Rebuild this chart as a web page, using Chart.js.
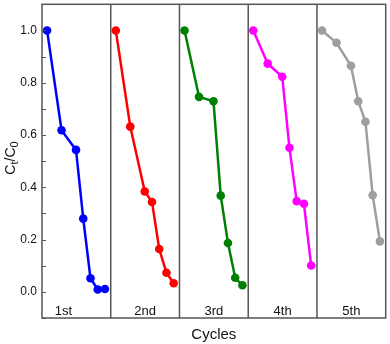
<!DOCTYPE html>
<html>
<head>
<meta charset="utf-8">
<script src="https://cdn.jsdelivr.net/npm/chart.js@4.4.1/dist/chart.umd.min.js"></script>
<style>
  html, body { margin: 0; padding: 0; background: #fff; }
  #wrap { width: 390px; height: 344px; }
</style>
</head>
<body>
<div id="wrap"><canvas id="chart" width="390" height="344"></canvas></div>
<script>
// irradiation times inside each cycle (min)
const times = [0, 20, 40, 50, 60, 70, 80];
const cycleLabels = ['1st', '2nd', '3rd', '4th', '5th'];

// Ct/C0 per cycle
const cycle1 = [1.0, 0.618, 0.543, 0.280, 0.052, 0.009, 0.011];
const cycle2 = [1.0, 0.632, 0.384, 0.344, 0.164, 0.073, 0.033];
const cycle3 = [1.0, 0.746, 0.729, 0.368, 0.187, 0.054, 0.025];
const cycle4 = [1.0, 0.873, 0.823, 0.551, 0.347, 0.337, 0.101];
const cycle5 = [1.0, 0.953, 0.865, 0.729, 0.651, 0.370, 0.193];

const colors = ['#0000ff', '#ff0000', '#008000', '#ff00ff', '#9e9e9e'];

// each panel is one cycle on a shared x axis
const panelSpan = 95;
const panelStart = 7;

const allCycles = [cycle1, cycle2, cycle3, cycle4, cycle5];

const datasets = allCycles.map((vals, p) => ({
  label: cycleLabels[p],
  data: vals.map((v, i) => ({ x: p * panelSpan + panelStart + times[i], y: v })),
  borderColor: colors[p],
  backgroundColor: colors[p],
  borderWidth: 2.5,
  pointRadius: 4.3,
  pointBorderWidth: 0,
  tension: 0
}));

const FONT = '"Liberation Sans", Arial, sans-serif';

const panelPlugin = {
  id: 'panels',
  afterDraw(chart) {
    const ctx = chart.ctx;
    const area = chart.chartArea;
    const xs = chart.scales.x;
    const ys = chart.scales.y;
    ctx.save();

    // inner ticks on the left axis
    ctx.strokeStyle = '#555';
    ctx.lineWidth = 1;
    ys.ticks.forEach(t => {
      const y = Math.round(ys.getPixelForValue(t.value)) + 0.5;
      ctx.beginPath();
      ctx.moveTo(area.left, y);
      ctx.lineTo(area.left + 4, y);
      ctx.stroke();
    });

    // panel dividers + frame
    ctx.strokeStyle = '#555';
    ctx.lineWidth = 1.5;
    for (let p = 1; p < cycleLabels.length; p++) {
      const x = xs.getPixelForValue(p * panelSpan);
      ctx.beginPath();
      ctx.moveTo(x, area.top);
      ctx.lineTo(x, area.bottom);
      ctx.stroke();
    }
    ctx.strokeRect(area.left, area.top, area.right - area.left, area.bottom - area.top);

    // cycle labels
    ctx.fillStyle = '#111';
    ctx.font = '13px ' + FONT;
    ctx.textAlign = 'center';
    ctx.textBaseline = 'middle';
    cycleLabels.forEach((lab, p) => {
      let cx = xs.getPixelForValue(p * panelSpan + panelSpan / 2);
      if (p === 0) cx -= 13;
      ctx.fillText(lab, cx, area.bottom - 7);
    });

    // x title
    ctx.font = '15px ' + FONT;
    ctx.fillText('Cycles', (area.left + area.right) / 2, 335);

    // y title Ct/C0 with subscripts
    ctx.translate(11, 158);
    ctx.rotate(-Math.PI / 2);
    const parts = [['C', false], ['t', true], ['/C', false], ['0', true]];
    let w = 0;
    parts.forEach(([s, sub]) => {
      ctx.font = (sub ? '11px ' : '14px ') + FONT;
      w += ctx.measureText(s).width;
    });
    let x0 = -w / 2;
    ctx.textAlign = 'left';
    parts.forEach(([s, sub]) => {
      ctx.font = (sub ? '11px ' : '14px ') + FONT;
      ctx.fillText(s, x0, sub ? 4 : 0);
      x0 += ctx.measureText(s).width;
    });
    ctx.restore();
  }
};

new Chart(document.getElementById('chart'), {
  type: 'line',
  data: { datasets },
  options: {
    responsive: false,
    animation: false,
    devicePixelRatio: 1,
    layout: { padding: { top: 0, right: 2, bottom: 26, left: 0 } },
    plugins: { legend: { display: false }, tooltip: { enabled: false } },
    scales: {
      x: {
        type: 'linear',
        display: false,
        min: 0,
        max: panelSpan * cycleLabels.length
      },
      y: {
        min: -0.1,
        max: 1.1,
        afterFit(scale) {
          scale.width = 42;
          scale.paddingTop = 0;
          scale.paddingBottom = 0;
        },
        border: { display: false },
        grid: { drawOnChartArea: false, drawTicks: false },
        ticks: {
          stepSize: 0.1,
          autoSkip: false,
          padding: 5,
          color: '#111',
          font: { family: FONT, size: 12 },
          callback(v) {
            const r = Math.round(v * 10);
            if (r < 0 || r > 10 || r % 2 !== 0) return '';
            return (r / 10).toFixed(1);
          }
        }
      }
    }
  },
  plugins: [panelPlugin]
});
</script>
</body>
</html>
